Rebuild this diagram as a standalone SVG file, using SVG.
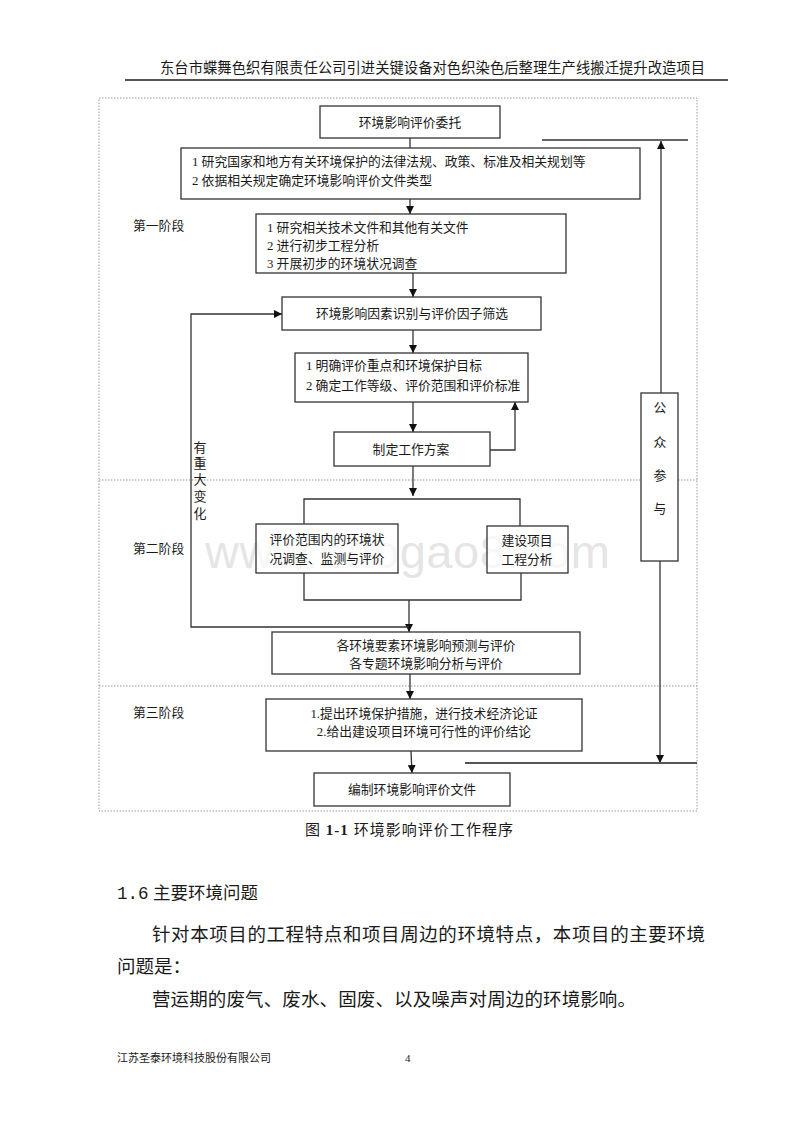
<svg xmlns="http://www.w3.org/2000/svg" width="800" height="1133" viewBox="0 0 800 1133">
<style>
text{font-family:"Liberation Serif","Noto Sans CJK SC",serif;fill:#1a1a1a}
.b{fill:#fff;stroke:#333;stroke-width:1.3}
.t{font-size:12.8px}
.c{text-anchor:middle}
.ln{fill:none;stroke:#333;stroke-width:1.3}
.dot{stroke:#999;stroke-width:1;stroke-dasharray:1.5 1.5;fill:none}
</style>
<defs>
<marker id="ah" viewBox="0 0 10 10" refX="10" refY="5" markerWidth="8" markerHeight="8" markerUnits="userSpaceOnUse" orient="auto">
<path d="M0,0 L10,5 L0,10 z" fill="#111"/>
</marker>
</defs>
<rect width="800" height="1133" fill="#fff"/>
<g id="header">
<text x="160" y="73" font-size="14.3" textLength="545">东台市蝶舞色织有限责任公司引进关键设备对色织染色后整理生产线搬迁提升改造项目</text>
<line x1="125" y1="80" x2="728" y2="80" stroke="#555" stroke-width="2"/>
</g>
<g id="frame">
<rect x="99" y="98" width="598" height="713" class="dot"/>
<line x1="99" y1="480" x2="697" y2="480" class="dot"/>
<line x1="99" y1="686" x2="697" y2="686" class="dot"/>
</g>
<g id="watermark">
<text x="205" y="568" font-size="47" textLength="405" style="font-family:'Liberation Sans',sans-serif;fill:#bbb;fill-opacity:0.4">www.baogao8.com</text>
</g>
<g id="stages">
<text x="133" y="230" class="t">第一阶段</text>
<text x="133" y="553" class="t">第二阶段</text>
<text x="133" y="717" class="t">第三阶段</text>
</g>
<g id="connectors">
<line x1="410" y1="138" x2="410" y2="148" class="ln"/>
<line x1="410" y1="199" x2="410" y2="214" class="ln" marker-end="url(#ah)"/>
<line x1="413" y1="273" x2="413" y2="297" class="ln" marker-end="url(#ah)"/>
<line x1="413" y1="330" x2="413" y2="353" class="ln" marker-end="url(#ah)"/>
<line x1="413" y1="402" x2="413" y2="432" class="ln" marker-end="url(#ah)"/>
<polyline points="490,450 515,450 515,402" class="ln" marker-end="url(#ah)"/>
<line x1="413" y1="466" x2="413" y2="496" class="ln" marker-end="url(#ah)"/>
<polyline points="304,524 304,499 520,499 520,526" class="ln"/>
<polyline points="304,573 304,600 521,600 521,573" class="ln"/>
<line x1="409" y1="600" x2="409" y2="632" class="ln" marker-end="url(#ah)"/>
<polyline points="409,627 191,627 191,314 282,314" class="ln" marker-end="url(#ah)"/>
<line x1="410" y1="674" x2="410" y2="699" class="ln" marker-end="url(#ah)"/>
<line x1="411" y1="751" x2="412" y2="773" class="ln" marker-end="url(#ah)"/>
<line x1="542" y1="140" x2="688" y2="140" class="ln"/>
<line x1="661" y1="393" x2="661" y2="141" class="ln" marker-end="url(#ah)"/>
<line x1="660" y1="561" x2="660" y2="763" class="ln" marker-end="url(#ah)"/>
<line x1="465" y1="763" x2="697" y2="763" stroke="#555" stroke-width="2"/>
</g>
<g id="n1">
<rect x="320" y="106" width="180" height="32" class="b"/>
<text x="410" y="127" class="t c">环境影响评价委托</text>
</g>
<g id="n2">
<rect x="181" y="148" width="459" height="51" class="b"/>
<text x="192" y="166" class="t">1 研究国家和地方有关环境保护的法律法规、政策、标准及相关规划等</text>
<text x="192" y="185" class="t">2 依据相关规定确定环境影响评价文件类型</text>
</g>
<g id="n3">
<rect x="256" y="214" width="310" height="59" class="b"/>
<text x="267" y="232" class="t">1 研究相关技术文件和其他有关文件</text>
<text x="267" y="250" class="t">2 进行初步工程分析</text>
<text x="267" y="268" class="t">3 开展初步的环境状况调查</text>
</g>
<g id="n4">
<rect x="282" y="297" width="259" height="33" class="b"/>
<text x="412" y="318" class="t c">环境影响因素识别与评价因子筛选</text>
</g>
<g id="n5">
<rect x="295" y="353" width="233" height="49" class="b"/>
<text x="306" y="370" class="t">1 明确评价重点和环境保护目标</text>
<text x="306" y="390" class="t">2 确定工作等级、评价范围和评价标准</text>
</g>
<g id="n6">
<rect x="334" y="432" width="156" height="34" class="b"/>
<text x="411" y="454" class="t c">制定工作方案</text>
</g>
<g id="n7">
<rect x="256" y="524" width="142" height="49" class="b" fill-opacity="0.7"/>
<text x="327" y="544" class="t c">评价范围内的环境状</text>
<text x="327" y="563" class="t c">况调查、监测与评价</text>
</g>
<g id="n8">
<rect x="487" y="526" width="81" height="47" class="b" fill-opacity="0.7"/>
<text x="527" y="545" class="t c">建设项目</text>
<text x="527" y="564" class="t c">工程分析</text>
</g>
<g id="n9">
<rect x="272" y="632" width="308" height="42" class="b"/>
<text x="426" y="650" class="t c">各环境要素环境影响预测与评价</text>
<text x="426" y="668" class="t c">各专题环境影响分析与评价</text>
</g>
<g id="n10">
<rect x="266" y="699" width="316" height="52" class="b"/>
<text x="424" y="718" class="t c">1.提出环境保护措施，进行技术经济论证</text>
<text x="424" y="736" class="t c">2.给出建设项目环境可行性的评价结论</text>
</g>
<g id="n11">
<rect x="314" y="773" width="196" height="33" class="b"/>
<text x="412" y="794" class="t c">编制环境影响评价文件</text>
</g>
<g id="n12">
<rect x="641" y="393" width="37" height="168" class="b"/>
<text x="660" y="412" class="t c">公</text>
<text x="660" y="447" class="t c">众</text>
<text x="660" y="480" class="t c">参</text>
<text x="660" y="513" class="t c">与</text>
</g>
<g id="loop-label">
<text x="200" y="452" class="c" font-size="13">有</text>
<text x="200" y="468" class="c" font-size="13">重</text>
<text x="200" y="484" class="c" font-size="13">大</text>
<text x="200" y="501" class="c" font-size="13">变</text>
<text x="200" y="518" class="c" font-size="13">化</text>
</g>
<g id="caption">
<text x="305" y="835" font-size="15" textLength="208">图 <tspan font-weight="bold">1-1</tspan>  环境影响评价工作程序</text>
</g>
<g id="body">
<text x="117" y="899" font-size="17.5"><tspan style="font-family:'Liberation Mono',monospace">1.6</tspan> 主要环境问题</text>
<text x="152" y="941" font-size="18.5" textLength="553">针对本项目的工程特点和项目周边的环境特点，本项目的主要环境</text>
<text x="117" y="973" font-size="18.5">问题是：</text>
<text x="152" y="1006" font-size="18.5" textLength="484">营运期的废气、废水、固废、以及噪声对周边的环境影响。</text>
</g>
<g id="footer">
<text x="117" y="1062" font-size="11">江苏圣泰环境科技股份有限公司</text>
<text x="405" y="1062" font-size="11">4</text>
</g>
</svg>
